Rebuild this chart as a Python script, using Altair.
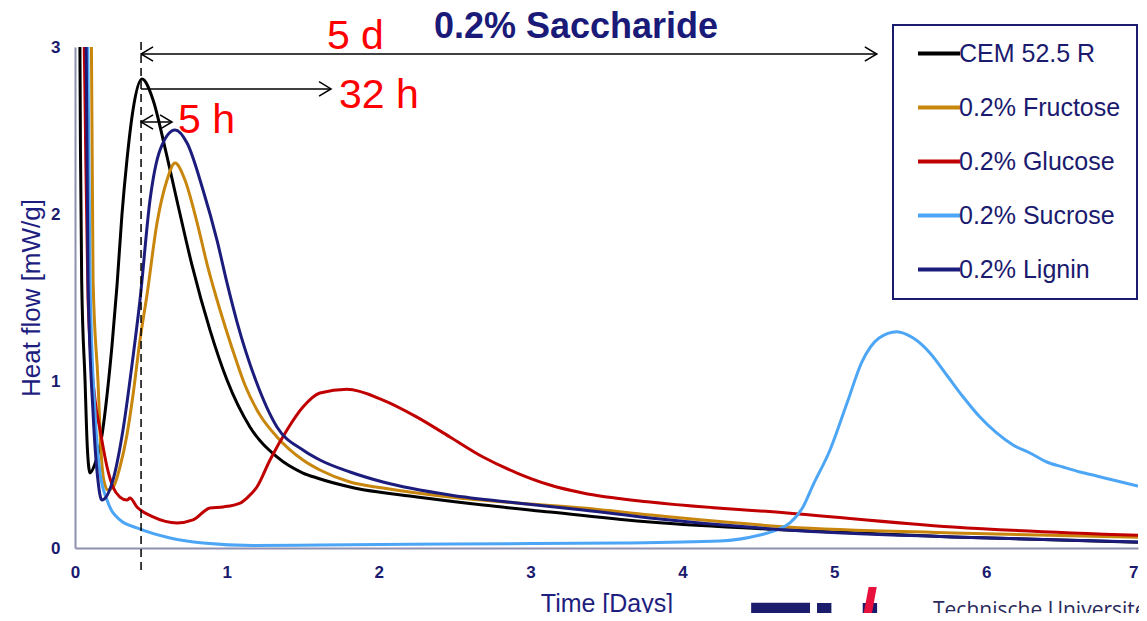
import altair as alt
import pandas as pd

# ---------------- data ----------------
series_names = ["CEM 52.5 R", "0.2% Fructose", "0.2% Glucose", "0.2% Sucrose", "0.2% Lignin"]
series_colors = ["#000000", "#c8860d", "#c00000", "#4da6f5", "#1c1c7c"]

cem_days = [0.030, 0.036, 0.044, 0.066, 0.081, 0.099, 0.130, 0.176, 0.211, 0.244, 0.277, 0.309, 0.342,
            0.382, 0.441, 0.514, 0.593, 0.678, 0.770, 0.889, 1.001, 1.152, 1.330, 1.501, 1.594, 1.811,
            2.252, 2.687, 3.128, 3.786, 4.689, 5.782, 7.0]
cem_flow = [3.4, 2.38, 1.60, 1.006, 0.605, 0.449, 0.50, 0.666, 0.916, 1.216, 1.575, 1.994, 2.323,
            2.623, 2.808, 2.683, 2.395, 2.054, 1.695, 1.305, 1.006, 0.725, 0.545, 0.449, 0.419, 0.365,
            0.305, 0.257, 0.216, 0.156, 0.108, 0.066, 0.035]

fru_days = [0.105, 0.119, 0.151, 0.171, 0.191, 0.217, 0.252, 0.296, 0.342, 0.382, 0.428, 0.474, 0.540,
            0.606, 0.659, 0.724, 0.803, 0.876, 0.955, 1.034, 1.119, 1.218, 1.330, 1.501, 1.613, 1.811,
            2.028, 2.469, 2.911, 3.345, 3.786, 4.689, 5.782, 7.0]
fru_flow = [3.4, 1.605, 1.006, 0.587, 0.40, 0.347, 0.365, 0.485, 0.677, 0.916, 1.246, 1.515, 1.946,
            2.204, 2.305, 2.204, 1.952, 1.677, 1.425, 1.198, 0.976, 0.796, 0.665, 0.527, 0.467, 0.395,
            0.359, 0.305, 0.269, 0.240, 0.198, 0.126, 0.090, 0.064]

glu_days = [0.055, 0.066, 0.086, 0.132, 0.165, 0.211, 0.250, 0.296, 0.342, 0.362, 0.408, 0.514, 0.672,
            0.777, 0.889, 0.975, 1.087, 1.139, 1.198, 1.284, 1.396, 1.501, 1.613, 1.791, 2.028, 2.252,
            2.469, 2.687, 2.911, 3.128, 3.345, 3.786, 4.689, 5.782, 7.0]
glu_flow = [3.4, 2.683, 1.485, 0.886, 0.707, 0.485, 0.365, 0.305, 0.287, 0.299, 0.246, 0.186, 0.150,
            0.168, 0.240, 0.246, 0.269, 0.305, 0.365, 0.527, 0.707, 0.844, 0.928, 0.950, 0.886, 0.784,
            0.665, 0.545, 0.449, 0.377, 0.329, 0.275, 0.210, 0.126, 0.076]

suc_days = [0.080, 0.099, 0.132, 0.165, 0.211, 0.296, 0.408, 0.626, 0.843, 1.172, 1.613, 2.469, 3.589,
            4.247, 4.511, 4.623, 4.708, 4.794, 4.860, 4.972, 5.084, 5.182, 5.295, 5.411, 5.520, 5.630,
            5.740, 5.849, 5.959, 6.069, 6.177, 6.289, 6.399, 6.506, 6.618, 6.728, 6.835, 7.0]
suc_flow = [3.4, 1.605, 0.808, 0.449, 0.287, 0.168, 0.120, 0.060, 0.030, 0.015, 0.018, 0.024, 0.030,
            0.042, 0.078, 0.108, 0.150, 0.246, 0.377, 0.587, 0.868, 1.114, 1.257, 1.295, 1.257, 1.168,
            1.036, 0.904, 0.784, 0.689, 0.617, 0.569, 0.515, 0.485, 0.455, 0.431, 0.407, 0.371]

lig_days = [0.070, 0.086, 0.119, 0.151, 0.176, 0.250, 0.316, 0.382, 0.428, 0.494, 0.560, 0.659, 0.738,
            0.843, 0.935, 1.001, 1.067, 1.192, 1.330, 1.501, 1.613, 1.811, 2.028, 2.469, 2.911, 3.345,
            3.786, 4.689, 5.782, 7.0]
lig_flow = [3.4, 1.605, 0.808, 0.407, 0.287, 0.407, 0.707, 1.144, 1.485, 2.084, 2.383, 2.503, 2.425,
            2.144, 1.844, 1.587, 1.353, 1.0, 0.725, 0.587, 0.527, 0.455, 0.395, 0.317, 0.269, 0.228,
            0.180, 0.108, 0.066, 0.036]

x_ticks = [0, 1, 2, 3, 4, 5, 6, 7]
y_ticks = [0, 1, 2, 3]

# annotations
title_text = "0.2% Saccharide"
title_day, title_flow = 3.299, 3.054

label_text = ["5 d", "32 h", "5 h"]
label_day = [1.659, 1.738, 0.678]
label_flow = [2.988, 2.635, 2.485]

arrow_start = [0.435, 0.435, 0.435]
arrow_end = [5.28, 1.686, 0.639]
arrow_flow = [2.958, 2.749, 2.551]

head_day = [0.435, 5.28, 1.686, 0.435, 0.639]
head_flow = [2.958, 2.958, 2.749, 2.551, 2.551]
head_dir = ["left", "right", "right", "left", "right"]

marker_day = [0.435]
marker_top = [3.03]
marker_bottom = [-0.144]

logo_text = ["TU", "/", "Technische Universiteit Eindhoven"]
logo_day = [4.445, 5.156, 5.65]
logo_flow = [-0.743, -0.539, -0.413]

# ---------------- build tables ----------------
rows = []
all_days = [cem_days, fru_days, glu_days, suc_days, lig_days]
all_flow = [cem_flow, fru_flow, glu_flow, suc_flow, lig_flow]
for s, (ds, fs) in enumerate(zip(all_days, all_flow)):
    for i, (d, f) in enumerate(zip(ds, fs)):
        rows.append({"series": series_names[s], "day": d, "flow": f, "idx": i})
curves = pd.DataFrame(rows)

NAVY = "#1a1a6e"
FONT = "Liberation Sans"

xscale = alt.Scale(domain=[0, 7], nice=False)
yscale = alt.Scale(domain=[0, 3], nice=False)

lines = alt.Chart(curves).mark_line(strokeWidth=3, clip=True, interpolate="monotone",
                                    strokeJoin="round").encode(
    x=alt.X("day:Q", scale=xscale,
            axis=alt.Axis(values=x_ticks, title="Time [Days]", format="d", grid=False, ticks=False,
                          labelFlush=False,
                          labelAlign={"condition": {"test": "datum.value == 7", "value": "right"},
                                      "value": "center"},
                          labelPadding=16, titlePadding=11, labelFont=FONT,
                          labelFontSize=17, labelFontWeight="bold", labelColor=NAVY, titleFont=FONT,
                          titleFontSize=25, titleFontWeight="normal", titleColor="#1e1e80",
                          domainColor="#8f8fb0", domainWidth=2)),
    y=alt.Y("flow:Q", scale=yscale,
            axis=alt.Axis(values=y_ticks, title="Heat flow [mW/g]", format="d", grid=False, ticks=False,
                          labelFlush=False, labelPadding=15, titlePadding=6, labelFont=FONT,
                          labelFontSize=17, labelFontWeight="bold", labelColor=NAVY, titleFont=FONT,
                          titleFontSize=26, titleFontWeight="normal", titleColor="#1e1e80",
                          domainColor="#8f8fb0", domainWidth=2)),
    color=alt.Color("series:N", scale=alt.Scale(domain=series_names, range=series_colors),
                    legend=alt.Legend(title=None, orient="none", legendX=818, legendY=-22,
                                      symbolType="M-1,0L3,0", symbolSize=441, symbolStrokeWidth=4,
                                      symbolOffset=7, labelFont=FONT, labelFontSize=25,
                                      labelColor=NAVY, labelOffset=18, rowPadding=28, padding=16,
                                      strokeColor=NAVY, fillColor="white", labelLimit=400)),
    detail="series:N",
    order="idx:Q",
)

marker_df = pd.DataFrame({"day": marker_day, "top": marker_top, "bottom": marker_bottom})
marker = alt.Chart(marker_df).mark_rule(color="black", strokeWidth=1.5, strokeDash=[8, 5]).encode(
    x=alt.X("day:Q", scale=xscale), y=alt.Y("top:Q", scale=yscale), y2="bottom:Q")

arrow_df = pd.DataFrame({"start": arrow_start, "end": arrow_end, "flow": arrow_flow})
arrows = alt.Chart(arrow_df).mark_rule(color="black", strokeWidth=1.5).encode(
    x=alt.X("start:Q", scale=xscale), x2="end:Q", y=alt.Y("flow:Q", scale=yscale))

head_df = pd.DataFrame({"day": head_day, "flow": head_flow, "dir": head_dir})
heads = alt.Chart(head_df).mark_point(filled=False, color="black", strokeWidth=1.5, size=576,
                                      opacity=1).encode(
    x=alt.X("day:Q", scale=xscale), y=alt.Y("flow:Q", scale=yscale),
    shape=alt.Shape("dir:N", scale=alt.Scale(domain=["left", "right"],
                                             range=["M1,-0.6L0,0L1,0.6", "M-1,-0.6L0,0L-1,0.6"]),
                    legend=None))

label_df = pd.DataFrame({"text": label_text, "day": label_day, "flow": label_flow})
labels = alt.Chart(label_df).mark_text(align="left", baseline="alphabetic", font=FONT, fontSize=41,
                                       color="#ff0000").encode(
    x=alt.X("day:Q", scale=xscale), y=alt.Y("flow:Q", scale=yscale), text="text:N")

title_df = pd.DataFrame({"text": [title_text], "day": [title_day], "flow": [title_flow]})
title = alt.Chart(title_df).mark_text(align="center", baseline="alphabetic", font=FONT, fontSize=36,
                                      fontWeight="bold", color="#1a1a78").encode(
    x=alt.X("day:Q", scale=xscale), y=alt.Y("flow:Q", scale=yscale), text="text:N")

logo_df = pd.DataFrame({"text": logo_text, "day": logo_day, "flow": logo_flow,
                        "kind": ["tu", "slash", "name"]})
logo_tu = alt.Chart(logo_df[logo_df.kind == "tu"]).mark_text(
    align="left", baseline="alphabetic", font=FONT, fontSize=100, fontWeight="bold",
    color="#1c1c6c").encode(x=alt.X("day:Q", scale=xscale), y=alt.Y("flow:Q", scale=yscale),
                            text="text:N")
logo_slash = alt.Chart(logo_df[logo_df.kind == "slash"]).mark_text(
    align="left", baseline="alphabetic", font=FONT, fontSize=70, fontWeight="bold",
    color="#e8103c").encode(x=alt.X("day:Q", scale=xscale), y=alt.Y("flow:Q", scale=yscale),
                            text="text:N")
logo_name = alt.Chart(logo_df[logo_df.kind == "name"]).mark_text(
    align="left", baseline="alphabetic", font="Open Sans", fontSize=21,
    color="#2a2a5a").encode(x=alt.X("day:Q", scale=xscale), y=alt.Y("flow:Q", scale=yscale),
                            text="text:N")

chart = alt.layer(lines, marker, arrows, heads, labels, title, logo_tu, logo_slash, logo_name).properties(
    width=1063, height=501,
    padding={"left": 67, "top": 39, "right": 1, "bottom": 65},
    autosize=alt.AutoSizeParams(type="none"),
    background="white",
).configure_view(stroke=None).configure_legend(strokeWidth=2)

chart.save("out.html", embed_options={"renderer": "svg", "actions": False})
